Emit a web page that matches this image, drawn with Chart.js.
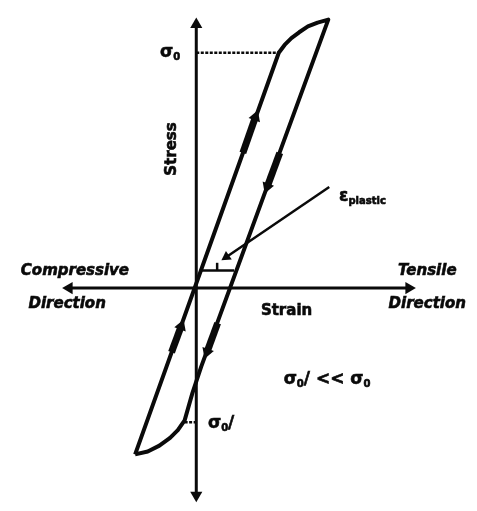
<!DOCTYPE html>
<html>
<head>
<meta charset="utf-8">
<script src="https://cdn.jsdelivr.net/npm/chart.js@4.4.1/dist/chart.umd.min.js"></script>
<style>
  html, body { margin: 0; padding: 0; background: #fff; }
</style>
</head>
<body>
<canvas id="loopChart" width="477" height="511"></canvas>
<script>
// strain / stress in arbitrary units, origin where the two axes cross
var loopStrain = [-1.26, 1.70, 1.82, 1.96, 2.12, 2.30, 2.50, 2.72, 0.10, -0.08, -0.24, -0.38, -0.54, -0.76, -1.00, -1.26];
var loopStress = [-3.42, 4.84, 5.00, 5.14, 5.26, 5.38, 5.46, 5.52, -1.62, -2.16, -2.72, -2.92, -3.08, -3.24, -3.36, -3.42];

var yieldStress = 4.84;        // sigma_0
var yieldStrain = 1.70;
var reverseYieldStress = -2.76; // sigma_0'
var reverseYieldStrain = -0.24;

var strainAxis = [-2.62, 4.38];
var stressAxis = [-4.26, 5.42];

// direction arrows on the loop: tail and head
var arrowTailX = [0.96, 1.72, -0.51, 0.44];
var arrowTailY = [2.78, 2.78, -1.32, -0.72];
var arrowHeadX = [1.22, 1.46, -0.31, 0.22];
var arrowHeadY = [3.52, 2.08, -0.78, -1.32];
var arrowTurn  = [20, 200, 20, 200];

// plastic strain bracket and its pointer
var plasticFrom = 0.08, plasticTo = 0.78, plasticLevel = 0.36, plasticTick = 0.52;
var pointerX = [2.74, 0.62];
var pointerY = [2.08, 0.64];

function pts(xs, ys) {
  return xs.map(function(x, i) { return { x: x, y: ys[i] }; });
}

var ink = '#0a0a0a';
var datasets = [];

// axes
datasets.push({
  data: [{ x: strainAxis[0], y: 0 }, { x: strainAxis[1], y: 0 }],
  borderColor: ink, borderWidth: 3, showLine: true,
  pointRadius: [7, 7], pointStyle: 'triangle', pointRotation: [270, 90],
  pointBackgroundColor: ink, pointBorderWidth: 0
});
datasets.push({
  data: [{ x: 0, y: stressAxis[0] }, { x: 0, y: stressAxis[1] }],
  borderColor: ink, borderWidth: 3, showLine: true,
  pointRadius: [7, 7], pointStyle: 'triangle', pointRotation: [180, 0],
  pointBackgroundColor: ink, pointBorderWidth: 0
});

// hysteresis loop
datasets.push({
  data: pts(loopStrain, loopStress),
  borderColor: ink, borderWidth: 4, showLine: true, pointRadius: 0,
  tension: 0, borderJoinStyle: 'round'
});

// dotted yield levels
datasets.push({
  data: [{ x: 0, y: yieldStress }, { x: yieldStrain, y: yieldStress }],
  borderColor: ink, borderWidth: 2.5, borderDash: [3, 1.5], showLine: true, pointRadius: 0
});
datasets.push({
  data: [{ x: reverseYieldStrain, y: reverseYieldStress }, { x: 0, y: reverseYieldStress }],
  borderColor: ink, borderWidth: 2.5, borderDash: [3, 1.5], showLine: true, pointRadius: 0
});

// loading / unloading arrows
for (var i = 0; i < arrowTailX.length; i++) {
  datasets.push({
    data: [{ x: arrowTailX[i], y: arrowTailY[i] }, { x: arrowHeadX[i], y: arrowHeadY[i] }],
    borderColor: ink, borderWidth: 7, showLine: true,
    pointRadius: [0, 7], pointStyle: 'triangle', pointRotation: arrowTurn[i],
    pointBackgroundColor: ink, pointBorderWidth: 0
  });
}

// plastic strain bracket
datasets.push({
  data: [{ x: plasticFrom, y: plasticLevel }, { x: plasticTo, y: plasticLevel }],
  borderColor: ink, borderWidth: 2.5, showLine: true, pointRadius: 0
});
datasets.push({
  data: [{ x: (plasticFrom + plasticTo) / 2, y: plasticLevel }, { x: (plasticFrom + plasticTo) / 2, y: plasticTick }],
  borderColor: ink, borderWidth: 2.5, showLine: true, pointRadius: 0
});
datasets.push({
  data: pts(pointerX, pointerY),
  borderColor: ink, borderWidth: 2.5, showLine: true,
  pointRadius: [0, 6], pointStyle: 'triangle', pointRotation: 236,
  pointBackgroundColor: ink, pointBorderWidth: 0
});

// text labels: runs of [text, kind] where kind is '' / 'sub'
var labels = [
  { x: -0.54, y: 4.84, align: 'center', size: 17, runs: [['σ', ''], ['0', 'sub']] },
  { x: -0.50, y: 2.86, align: 'center', size: 15, rotate: -90, runs: [['Stress', '']] },
  { x: 2.94, y: 1.88, align: 'left', size: 17, runs: [['ε', ''], ['plastic', 'sub']] },
  { x: 1.86, y: -0.48, align: 'center', size: 15, runs: [['Strain', '']] },
  { x: -2.50, y: 0.34, align: 'center', size: 15, italic: true, runs: [['Compressive', '']] },
  { x: -2.66, y: -0.32, align: 'center', size: 15, italic: true, runs: [['Direction', '']] },
  { x: 4.76, y: 0.34, align: 'center', size: 15, italic: true, runs: [['Tensile', '']] },
  { x: 4.76, y: -0.32, align: 'center', size: 15, italic: true, runs: [['Direction', '']] },
  { x: 1.80, y: -1.88, align: 'left', size: 17, runs: [['σ', ''], ['0', 'sub'], ['/', ''], [' << σ', ''], ['0', 'sub']] },
  { x: 0.24, y: -2.78, align: 'left', size: 17, runs: [['σ', ''], ['0', 'sub'], ['/', '']] }
];

var textPlugin = {
  id: 'diagramText',
  afterDatasetsDraw: function(chart) {
    var ctx = chart.ctx;
    var sx = chart.scales.x, sy = chart.scales.y;
    labels.forEach(function(lb) {
      var px = sx.getPixelForValue(lb.x);
      var py = sy.getPixelForValue(lb.y);
      var style = (lb.italic ? 'italic ' : '') + 'bold ';
      var fonts = lb.runs.map(function(r) {
        var s = r[1] ? Math.round(lb.size * 0.6) : lb.size;
        return style + s + 'px "DejaVu Sans", sans-serif';
      });
      ctx.save();
      ctx.translate(px, py);
      if (lb.rotate) ctx.rotate(lb.rotate * Math.PI / 180);
      var total = 0;
      lb.runs.forEach(function(r, i) { ctx.font = fonts[i]; total += ctx.measureText(r[0]).width; });
      var cx = lb.align === 'center' ? -total / 2 : 0;
      ctx.fillStyle = ink;
      ctx.strokeStyle = ink;
      ctx.lineWidth = 0.6;
      ctx.textBaseline = 'middle';
      lb.runs.forEach(function(r, i) {
        ctx.font = fonts[i];
        var dy = r[1] === 'sub' ? lb.size * 0.3 : 0;
        ctx.fillText(r[0], cx, dy);
        ctx.strokeText(r[0], cx, dy);
        cx += ctx.measureText(r[0]).width;
      });
      ctx.restore();
    });
  }
};

var ctx = document.getElementById('loopChart').getContext('2d');
var loopChart = new Chart(ctx, {
  type: 'scatter',
  data: { datasets: datasets },
  options: {
    responsive: false,
    animation: false,
    layout: { padding: 0 },
    plugins: {
      legend: { display: false },
      tooltip: { enabled: false }
    },
    scales: {
      x: { type: 'linear', display: false, min: -3.9, max: 5.64 },
      y: { type: 'linear', display: false, min: -4.44, max: 5.78 }
    }
  },
  plugins: [textPlugin]
});
</script>
</body>
</html>
